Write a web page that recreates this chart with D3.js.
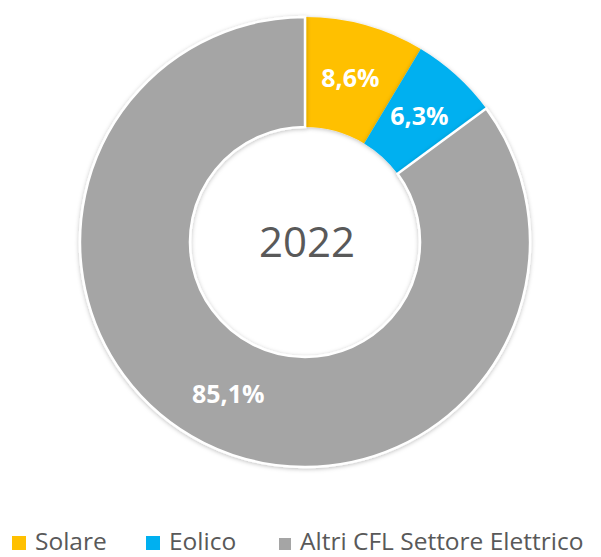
<!DOCTYPE html>
<html>
<head>
<meta charset="utf-8">
<style>
    body { margin: 0; background: #fff; }
    svg { display: block; font-family: 'Open Sans', 'Noto Sans', sans-serif; }
</style>
</head>
<body>
<svg width="601" height="557"></svg>
<script src="https://d3js.org/d3.v7.min.js"></script>
<script>
    // data
    let categories = ["Solare", "Eolico", "Altri CFL Settore Elettrico"];
    let shares = [8.6, 6.3, 85.1];
    let colors = ["#FFC000", "#00B0F0", "#A5A5A5"];
    let centerLabel = "2022";

    let svg = d3.select("svg");
    let cx = 305, cy = 242;
    let outerR = 225, innerR = 115;

    let defs = svg.append("defs");
    let f = defs.append("filter").attr("id", "shadow")
        .attr("x", "-10%").attr("y", "-10%").attr("width", "120%").attr("height", "120%");
    f.append("feDropShadow").attr("dx", 0).attr("dy", 1).attr("stdDeviation", 2)
        .attr("flood-color", "#000").attr("flood-opacity", 0.25);

    let pie = d3.pie().sort(null).value(d => d);
    let arc = d3.arc().innerRadius(innerR).outerRadius(outerR);
    let labelArc = d3.arc().innerRadius(170).outerRadius(170);

    let g = svg.append("g").attr("transform", `translate(${cx},${cy})`);
    let arcs = pie(shares);

    g.selectAll(".slice")
        .data(arcs)
        .join("path")
        .attr("class", "slice")
        .attr("d", arc)
        .attr("fill", (d, i) => colors[i])
        .attr("stroke", (d, i) => i == 2 ? "#fff" : "none")
        .attr("stroke-width", 2.5)
        .attr("filter", "url(#shadow)");

    g.selectAll(".lbl")
        .data(arcs)
        .join("text")
        .attr("class", "lbl")
        .attr("transform", d => `translate(${labelArc.centroid(d)})`)
        .attr("text-anchor", "middle")
        .attr("dy", "0.36em")
        .style("font-size", "25px")
        .style("font-weight", "bold")
        .style("fill", "#fff")
        .text((d, i) => String(shares[i]).replace(".", ",") + "%");

    g.append("text")
        .attr("x", 2)
        .attr("text-anchor", "middle")
        .attr("dy", "0.36em")
        .style("font-size", "42px")
        .style("fill", "#595959")
        .text(centerLabel);

    // legend
    let legendX = [12, 146, 279];
    let legend = svg.selectAll(".leg")
        .data(categories)
        .join("g")
        .attr("class", "leg")
        .attr("transform", (d, i) => `translate(${legendX[i]},550)`);

    legend.append("rect")
        .attr("x", 0)
        .attr("y", (d, i) => i == 2 ? -12 : -14)
        .attr("width", (d, i) => i == 2 ? 12 : 14)
        .attr("height", (d, i) => i == 2 ? 12 : 14)
        .attr("fill", (d, i) => colors[i]);

    legend.append("text")
        .attr("x", (d, i) => i == 2 ? 21 : 23)
        .style("font-size", "24.5px")
        .style("fill", "#595959")
        .text(d => d);
</script>
</body>
</html>
